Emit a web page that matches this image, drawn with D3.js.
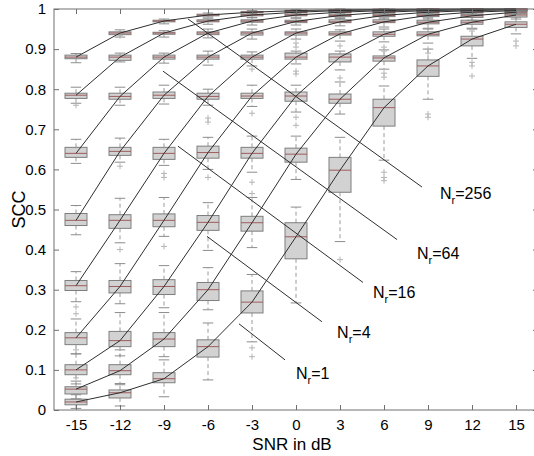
<!DOCTYPE html>
<html>
<head>
<meta charset="utf-8">
<script src="https://cdn.jsdelivr.net/npm/d3@7"></script>
<style>
  html, body { margin: 0; padding: 0; background: #ffffff; }
  svg { display: block; font-family: "Liberation Sans", Arial, Helvetica, sans-serif; }
</style>
</head>
<body>
<svg id="chart" width="534" height="456"></svg>
<script>
// SNR positions (dB) and number of receive antennas per curve
const snr = [-15, -12, -9, -6, -3, 0, 3, 6, 9, 12, 15];
const nr = [1, 2, 4, 8, 16, 32, 64, 128, 256];

// Box statistics of SCC, one row per Nr, one column per SNR
const median = [
  [0.020, 0.043, 0.078, 0.158, 0.269, 0.432, 0.598, 0.754, 0.858, 0.925, 0.962],
  [0.052, 0.098, 0.177, 0.300, 0.467, 0.638, 0.775, 0.878, 0.937, 0.967, 0.985],
  [0.100, 0.173, 0.308, 0.468, 0.640, 0.783, 0.880, 0.937, 0.967, 0.983, 0.992],
  [0.180, 0.308, 0.473, 0.642, 0.783, 0.880, 0.938, 0.968, 0.984, 0.992, 0.996],
  [0.310, 0.473, 0.640, 0.782, 0.880, 0.940, 0.968, 0.984, 0.992, 0.996, 0.998],
  [0.473, 0.645, 0.785, 0.880, 0.940, 0.969, 0.984, 0.992, 0.996, 0.998, 0.999],
  [0.640, 0.782, 0.880, 0.940, 0.970, 0.985, 0.992, 0.996, 0.998, 0.999, 0.9995],
  [0.785, 0.880, 0.940, 0.970, 0.985, 0.992, 0.996, 0.998, 0.999, 0.9995, 0.9997],
  [0.880, 0.940, 0.970, 0.985, 0.992, 0.996, 0.998, 0.999, 0.9995, 0.9997, 0.9998]
];
const q1 = [
  [0.013, 0.030, 0.068, 0.132, 0.242, 0.377, 0.543, 0.708, 0.832, 0.908, 0.954],
  [0.040, 0.088, 0.158, 0.273, 0.446, 0.618, 0.765, 0.870, 0.933, 0.962, 0.980],
  [0.088, 0.158, 0.288, 0.448, 0.628, 0.770, 0.868, 0.932, 0.963, 0.979, 0.990],
  [0.163, 0.292, 0.457, 0.628, 0.777, 0.875, 0.935, 0.966, 0.981, 0.990, 0.995],
  [0.298, 0.453, 0.625, 0.775, 0.875, 0.935, 0.966, 0.981, 0.990, 0.995, 0.997],
  [0.460, 0.635, 0.777, 0.875, 0.935, 0.966, 0.981, 0.990, 0.995, 0.997, 0.998],
  [0.630, 0.775, 0.875, 0.936, 0.967, 0.983, 0.991, 0.995, 0.997, 0.998, 0.999],
  [0.777, 0.872, 0.937, 0.968, 0.983, 0.991, 0.995, 0.997, 0.998, 0.999, 0.9995],
  [0.876, 0.936, 0.968, 0.983, 0.991, 0.995, 0.997, 0.998, 0.999, 0.9995, 0.9996]
];
const q3 = [
  [0.027, 0.050, 0.093, 0.175, 0.297, 0.467, 0.630, 0.775, 0.873, 0.932, 0.968],
  [0.058, 0.113, 0.193, 0.318, 0.483, 0.653, 0.788, 0.883, 0.943, 0.972, 0.988],
  [0.113, 0.196, 0.325, 0.485, 0.655, 0.793, 0.888, 0.943, 0.972, 0.986, 0.994],
  [0.193, 0.323, 0.489, 0.658, 0.790, 0.890, 0.943, 0.973, 0.987, 0.994, 0.997],
  [0.323, 0.487, 0.655, 0.790, 0.885, 0.943, 0.973, 0.987, 0.994, 0.997, 0.999],
  [0.490, 0.655, 0.793, 0.885, 0.943, 0.972, 0.987, 0.994, 0.997, 0.999, 1.000],
  [0.655, 0.790, 0.885, 0.943, 0.973, 0.987, 0.994, 0.997, 0.999, 1.000, 1.000],
  [0.790, 0.885, 0.942, 0.973, 0.987, 0.994, 0.997, 0.999, 0.9995, 1.000, 1.000],
  [0.885, 0.943, 0.972, 0.987, 0.994, 0.997, 0.999, 0.9995, 1.000, 1.000, 1.000]
];
const whiskerLo = [
  [0.004, 0.010, 0.033, 0.075, 0.170, 0.267, 0.420, 0.623, 0.775, 0.877, 0.938],
  [0.028, 0.063, 0.133, 0.250, 0.405, 0.575, 0.738, 0.850, 0.915, 0.952, 0.975],
  [0.065, 0.135, 0.255, 0.398, 0.593, 0.743, 0.848, 0.918, 0.952, 0.972, 0.986],
  [0.140, 0.265, 0.433, 0.600, 0.757, 0.863, 0.920, 0.955, 0.975, 0.986, 0.993],
  [0.270, 0.417, 0.610, 0.760, 0.858, 0.925, 0.958, 0.975, 0.985, 0.992, 0.995],
  [0.437, 0.618, 0.763, 0.860, 0.925, 0.960, 0.976, 0.986, 0.992, 0.995, 0.997],
  [0.615, 0.760, 0.865, 0.928, 0.960, 0.978, 0.987, 0.993, 0.995, 0.997, 0.998],
  [0.765, 0.868, 0.930, 0.962, 0.979, 0.988, 0.993, 0.996, 0.997, 0.998, 0.999],
  [0.866, 0.930, 0.963, 0.980, 0.988, 0.993, 0.996, 0.997, 0.998, 0.999, 0.999]
];
const whiskerHi = [
  [0.038, 0.066, 0.125, 0.217, 0.338, 0.506, 0.680, 0.808, 0.900, 0.950, 0.980],
  [0.072, 0.150, 0.243, 0.355, 0.530, 0.683, 0.818, 0.898, 0.950, 0.980, 0.992],
  [0.140, 0.243, 0.360, 0.517, 0.683, 0.810, 0.895, 0.950, 0.978, 0.990, 0.997],
  [0.227, 0.365, 0.530, 0.680, 0.810, 0.895, 0.948, 0.978, 0.990, 0.996, 0.999],
  [0.345, 0.528, 0.675, 0.800, 0.893, 0.950, 0.978, 0.990, 0.996, 0.999, 1.000],
  [0.510, 0.678, 0.810, 0.895, 0.950, 0.977, 0.990, 0.996, 0.999, 1.000, 1.000],
  [0.675, 0.805, 0.890, 0.950, 0.978, 0.991, 0.997, 0.999, 1.000, 1.000, 1.000],
  [0.805, 0.890, 0.946, 0.977, 0.990, 0.996, 0.999, 1.000, 1.000, 1.000, 1.000],
  [0.889, 0.948, 0.975, 0.990, 0.996, 0.999, 1.000, 1.000, 1.000, 1.000, 1.000]
];

// Outliers: [Nr index, SNR index, SCC]
const outliers = [
  [0, 4, 0.155], [0, 4, 0.133], [0, 6, 0.375], [0, 7, 0.593], [0, 7, 0.580], [0, 7, 0.572],
  [0, 8, 0.738], [0, 8, 0.730], [0, 9, 0.867], [0, 9, 0.858], [0, 9, 0.833],
  [0, 10, 0.920], [0, 10, 0.908],
  [1, 0, 0.080], [1, 5, 0.710], [1, 7, 0.840], [1, 7, 0.830], [1, 8, 0.900], [1, 8, 0.890], [1, 9, 0.945],
  [2, 0, 0.150], [2, 4, 0.568], [2, 4, 0.540], [2, 5, 0.730], [2, 6, 0.828], [2, 7, 0.905], [2, 7, 0.895],
  [3, 2, 0.408], [3, 3, 0.580], [3, 4, 0.740], [3, 5, 0.845], [3, 5, 0.838], [3, 6, 0.908],
  [4, 0, 0.257], [4, 0, 0.240], [4, 1, 0.400], [4, 2, 0.590], [4, 2, 0.580],
  [4, 3, 0.728], [4, 3, 0.718], [4, 4, 0.850], [4, 5, 0.915], [4, 5, 0.905],
  [5, 1, 0.608], [7, 0, 0.760], [8, 1, 0.933]
];

// Y-axis ticks
const yTicks = [0, 0.1, 0.2, 0.3, 0.4, 0.5, 0.6, 0.7, 0.8, 0.9, 1];
const yTickLabels = ["0", "0.1", "0.2", "0.3", "0.4", "0.5", "0.6", "0.7", "0.8", "0.9", "1"];

// Callout lines (SNR, SCC) with their Nr labels
const callouts = [
  { nr: "256", x1: -7.36, y1: 0.975, x2: 8.59, y2: 0.556, lx: 9.82, ly: 0.538 },
  { nr: "64",  x1: -9.07, y1: 0.845, x2: 6.89, y2: 0.425, lx: 8.25, ly: 0.388 },
  { nr: "16",  x1: -8.05, y1: 0.658, x2: 4.57, y2: 0.318, lx: 5.25, ly: 0.293 },
  { nr: "4",   x1: -6.07, y1: 0.433, x2: 1.77, y2: 0.220, lx: 2.80, ly: 0.193 },
  { nr: "1",   x1: -3.89, y1: 0.215, x2: -0.75, y2: 0.125, lx: 0.00, ly: 0.090 }
];

const svg = d3.select("#chart");

const x = d3.scaleLinear().domain([-16.5, 16.5]).range([54, 538]);
const y = d3.scaleLinear().domain([0, 1]).range([410, 9]);

const boxW = (x(3) - x(0)) * 0.5;
const capW = boxW * 0.48;

const plot = svg.append("g");

// Box plots
nr.forEach((n, i) => {
  snr.forEach((s, j) => {
    const g = plot.append("g");
    const cx = x(s);
    // whiskers
    g.append("line")
      .attr("x1", cx).attr("x2", cx)
      .attr("y1", y(q3[i][j])).attr("y2", y(whiskerHi[i][j]))
      .attr("stroke", "#9a9a9a").attr("stroke-width", 1).attr("stroke-dasharray", "4,3");
    g.append("line")
      .attr("x1", cx).attr("x2", cx)
      .attr("y1", y(q1[i][j])).attr("y2", y(whiskerLo[i][j]))
      .attr("stroke", "#9a9a9a").attr("stroke-width", 1).attr("stroke-dasharray", "4,3");
    // caps
    [whiskerHi[i][j], whiskerLo[i][j]].forEach(v => {
      g.append("line")
        .attr("x1", cx - capW / 2).attr("x2", cx + capW / 2)
        .attr("y1", y(v)).attr("y2", y(v))
        .attr("stroke", "#8c8c8c").attr("stroke-width", 1);
    });
    // box
    g.append("rect")
      .attr("x", cx - boxW / 2).attr("width", boxW)
      .attr("y", y(q3[i][j])).attr("height", Math.max(1, y(q1[i][j]) - y(q3[i][j])))
      .attr("fill", "#d2d2d2").attr("stroke", "#7e7e7e").attr("stroke-width", 1);
    // median
    g.append("line")
      .attr("x1", cx - boxW / 2).attr("x2", cx + boxW / 2)
      .attr("y1", y(median[i][j])).attr("y2", y(median[i][j]))
      .attr("stroke", "#9e5c5c").attr("stroke-width", 1);
  });
});

// Outlier markers
outliers.forEach(([i, j, v]) => {
  const cx = x(snr[j]), cy = y(v);
  plot.append("path")
    .attr("d", `M${cx - 3},${cy}H${cx + 3}M${cx},${cy - 3}V${cy + 3}`)
    .attr("stroke", "#b4b4b4").attr("stroke-width", 1).attr("fill", "none");
});

// SCC curves through the medians
const line = d3.line().x((d, j) => x(snr[j])).y(d => y(d));
median.forEach(row => {
  plot.append("path")
    .attr("d", line(row))
    .attr("fill", "none").attr("stroke", "#2e2e2e").attr("stroke-width", 1);
});

// Callouts
callouts.forEach(c => {
  plot.append("line")
    .attr("x1", x(c.x1)).attr("y1", y(c.y1))
    .attr("x2", x(c.x2)).attr("y2", y(c.y2))
    .attr("stroke", "#2e2e2e").attr("stroke-width", 1);
  const t = plot.append("text")
    .attr("x", x(c.lx)).attr("y", y(c.ly) + 5)
    .attr("font-size", 16).attr("fill", "#000");
  t.append("tspan").text("N");
  t.append("tspan").attr("font-size", 11).attr("dy", 5).text("r");
  t.append("tspan").attr("dy", -5).text("=" + c.nr);
});

// Frame
svg.append("rect")
  .attr("x", x(-16.5)).attr("y", y(1))
  .attr("width", x(16.5) - x(-16.5)).attr("height", y(0) - y(1))
  .attr("fill", "none").attr("stroke", "#707070").attr("stroke-width", 1);

// Axes with inward ticks
const axisStyle = g => {
  g.select(".domain").remove();
  g.selectAll(".tick line").attr("stroke", "#707070");
  g.selectAll(".tick text").attr("fill", "#000").attr("font-size", 15)
    .attr("font-family", "'Liberation Sans', Arial, sans-serif");
};

svg.append("g").attr("transform", `translate(${x(-16.5)},0)`)
  .call(d3.axisLeft(y).tickValues(yTicks).tickFormat((d, k) => yTickLabels[k])
    .tickSizeInner(-5).tickSizeOuter(0).tickPadding(8))
  .call(axisStyle);
svg.append("g").attr("transform", `translate(${x(16.5)},0)`)
  .call(d3.axisRight(y).tickValues(yTicks).tickFormat("")
    .tickSizeInner(-5).tickSizeOuter(0))
  .call(axisStyle);
svg.append("g").attr("transform", `translate(0,${y(0)})`)
  .call(d3.axisBottom(x).tickValues(snr).tickFormat(d => String(d))
    .tickSizeInner(-5).tickSizeOuter(0).tickPadding(9))
  .call(axisStyle);
svg.append("g").attr("transform", `translate(0,${y(1)})`)
  .call(d3.axisTop(x).tickValues(snr).tickFormat("")
    .tickSizeInner(-5).tickSizeOuter(0))
  .call(axisStyle);

// Axis titles
svg.append("text")
  .attr("x", 292).attr("y", 450)
  .attr("text-anchor", "middle").attr("font-size", 17).attr("fill", "#000")
  .text("SNR in dB");
svg.append("text")
  .attr("transform", `translate(25,${(y(0) + y(1)) / 2}) rotate(-90)`)
  .attr("text-anchor", "middle").attr("font-size", 18).attr("fill", "#000")
  .text("SCC");
</script>
</body>
</html>
